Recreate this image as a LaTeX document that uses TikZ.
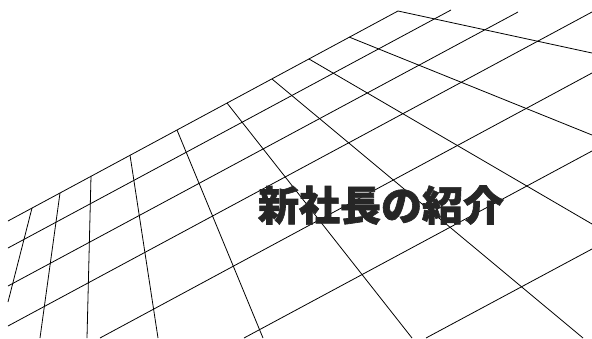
\documentclass[tikz,border=0pt]{standalone}
\usepackage{fontspec}
\newfontfamily\cjk{Noto Sans CJK JP}[BoldFeatures={FakeBold=1.6}]

\tikzset{
  gridline/.style={draw, line width=.8pt},
  titletext/.style={font=\cjk\bfseries\fontsize{41}{41}\selectfont, text=black!85, inner sep=0pt}
}

\begin{document}
\begin{tikzpicture}[x=1pt,y=-1pt]
      \useasboundingbox (0,0) rectangle (592,338);

      \begin{scope}[every path/.style={gridline}]
        % rows
        \path (398,11)  -- (8,221);
        \path (451,10)  -- (8,248);
        \path (518,12)  -- (8,286);
        \path (592,12)  -- (8,326);
        \path (592,73)  -- (100,338);
        \path (592,151) -- (244,338);
        \path (592,249) -- (426,338);
        % columns
        \path (32,208)  -- (8,302);
        \path (60,193)  -- (40,338);
        \path (91,176)  -- (87,338);
        \path (130,155) -- (158,338);
        \path (177,130) -- (263,338);
        \path (227,103) -- (412,338);
        \path (272,79)  -- (583,338);
        \path (309,59)  -- (592,224);
        \path (349,37)  -- (592,135);
        \path (398,11)  -- (592,53);
      \end{scope}

      \node[titletext] (title) at (381,205) {新社長の紹介};

    \end{tikzpicture}
\end{document}
